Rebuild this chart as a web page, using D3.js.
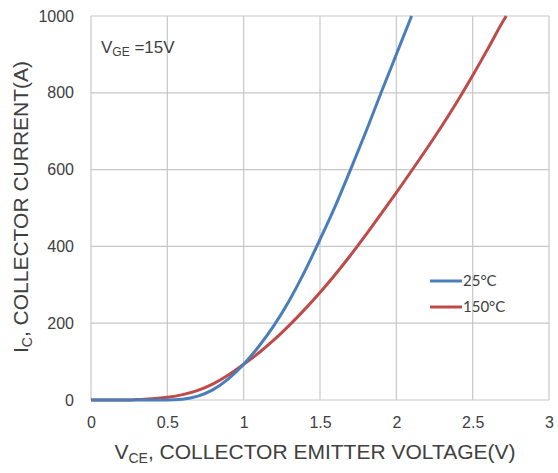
<!DOCTYPE html>
<html>
<head>
<meta charset="utf-8">
<script src="https://cdn.jsdelivr.net/npm/d3@7"></script>
<style>
  body { margin: 0; background: #fff; }
  text { font-family: "Liberation Sans", Arial, sans-serif; fill: #404040; }
</style>
</head>
<body>
<svg id="vis"></svg>
<script>
//DATOS--------------------------------------------------------------------------------------------
const VCE_25 = [0, 0.5, 0.6, 0.7, 0.8, 0.9, 1.0, 1.1, 1.2, 1.3, 1.4, 1.5, 1.6, 1.7, 1.8, 1.9, 2.0, 2.1];
const IC_25 = [0, 0, 2, 10, 27, 55, 93, 140, 195, 260, 335, 418, 505, 600, 698, 800, 900, 1000];
const VCE_150 = [0, 0.25, 0.3, 0.4, 0.5, 0.6, 0.7, 0.8, 0.9, 1.0, 1.1, 1.2, 1.3, 1.4, 1.5, 1.6, 1.7, 1.8, 1.9, 2.0, 2.1, 2.2, 2.3, 2.4, 2.5, 2.6, 2.7, 2.72];
const IC_150 = [0, 0, 1, 3, 7, 14, 25, 42, 65, 93, 123, 157, 195, 236, 280, 327, 377, 430, 485, 540, 597, 655, 715, 778, 845, 915, 987, 1000];
const X_TICKS = [0, 0.5, 1, 1.5, 2, 2.5, 3];
const Y_TICKS = [0, 200, 400, 600, 800, 1000];
const SERIES = ["25°C", "150°C"];

//VARIABLES CONSTANTES-----------------------------------------------------------------------------
const WIDTH = 558;
const HEIGHT = 473;
const MARGIN = { top: 16, bottom: 73, right: 9, left: 91 };
const HEIGHTVIS = HEIGHT - MARGIN.top - MARGIN.bottom;
const WIDTHVIS = WIDTH - MARGIN.right - MARGIN.left;
const COLORES = { "25°C": "#4a7ebb", "150°C": "#be4b48" };
const GRIS = "#c8c8c8";

const svg = d3.select("#vis").attr("width", WIDTH).attr("height", HEIGHT);
const contenedor = svg
  .append("g")
  .attr("transform", `translate(${MARGIN.left} ${MARGIN.top})`);

//ESCALAS------------------------------------------------------------------------------------------
const escalaX = d3.scaleLinear().domain([0, 3]).range([0, WIDTHVIS]);
const escalaY = d3.scaleLinear().domain([0, 1000]).range([HEIGHTVIS, 0]);

//GRILLA-------------------------------------------------------------------------------------------
contenedor
  .selectAll(".gv")
  .data(X_TICKS)
  .join("line")
  .attr("x1", (d) => escalaX(d))
  .attr("x2", (d) => escalaX(d))
  .attr("y1", 0)
  .attr("y2", HEIGHTVIS)
  .attr("stroke", GRIS)
  .attr("stroke-width", 1.2);
contenedor
  .selectAll(".gh")
  .data(Y_TICKS)
  .join("line")
  .attr("x1", 0)
  .attr("x2", WIDTHVIS)
  .attr("y1", (d) => escalaY(d))
  .attr("y2", (d) => escalaY(d))
  .attr("stroke", GRIS)
  .attr("stroke-width", 1.2);

//EJES---------------------------------------------------------------------------------------------
const ejeX = contenedor
  .append("g")
  .attr("transform", `translate(0, ${HEIGHTVIS})`)
  .call(d3.axisBottom(escalaX).tickValues(X_TICKS).tickSize(0).tickPadding(17).tickFormat(d3.format("")));
const ejeY = contenedor
  .append("g")
  .call(d3.axisLeft(escalaY).tickValues(Y_TICKS).tickSize(0).tickPadding(17).tickFormat(d3.format("d")));
[ejeX, ejeY].forEach((g) => {
  g.select(".domain").remove();
  g.selectAll("text")
    .style("font-family", "Liberation Sans, Arial, sans-serif")
    .style("font-size", "16px")
    .attr("fill", "#404040");
});

//CURVAS-------------------------------------------------------------------------------------------
const linea = d3
  .line()
  .x((d) => escalaX(d[0]))
  .y((d) => escalaY(d[1]))
  .curve(d3.curveMonotoneX);

const datos = [
  { nombre: "150°C", puntos: d3.zip(VCE_150, IC_150) },
  { nombre: "25°C", puntos: d3.zip(VCE_25, IC_25) },
];
contenedor
  .selectAll(".curva")
  .data(datos)
  .join("path")
  .attr("class", "curva")
  .attr("d", (d) => linea(d.puntos))
  .attr("fill", "none")
  .attr("stroke", (d) => COLORES[d.nombre])
  .attr("stroke-width", 3)
  .attr("stroke-linejoin", "round");

//LEYENDA------------------------------------------------------------------------------------------
const leyenda = svg
  .selectAll(".ley")
  .data(SERIES)
  .join("g")
  .attr("transform", (d, i) => `translate(430, ${281 + i * 26})`);
leyenda
  .append("line")
  .attr("x1", 0)
  .attr("x2", 32)
  .attr("stroke", (d) => COLORES[d])
  .attr("stroke-width", 3);
leyenda
  .append("text")
  .attr("x", 33)
  .attr("y", 5)
  .style("font-family", "Lato, sans-serif")
  .style("font-size", "15px")
  .text((d) => d);

//TEXTOS-------------------------------------------------------------------------------------------
const vge = svg.append("text").attr("x", 101).attr("y", 53).style("font-size", "17px");
vge.append("tspan").text("V");
vge.append("tspan").attr("dy", 3).style("font-size", "12px").text("GE");
vge.append("tspan").attr("dy", -3).text(" =15V");

const tituloX = svg
  .append("text")
  .attr("x", 315)
  .attr("y", 459)
  .attr("text-anchor", "middle")
  .style("font-size", "21px");
tituloX.append("tspan").text("V");
tituloX.append("tspan").attr("dy", 4).style("font-size", "14px").text("CE");
tituloX.append("tspan").attr("dy", -4).text(", COLLECTOR EMITTER VOLTAGE(V)");

const tituloY = svg
  .append("text")
  .attr("transform", "translate(28, 207) rotate(-90)")
  .attr("text-anchor", "middle")
  .style("font-size", "21px");
tituloY.append("tspan").text("I");
tituloY.append("tspan").attr("dy", 4).style("font-size", "14px").text("C");
tituloY.append("tspan").attr("dy", -4).text(", COLLECTOR CURRENT(A)");
</script>
</body>
</html>
